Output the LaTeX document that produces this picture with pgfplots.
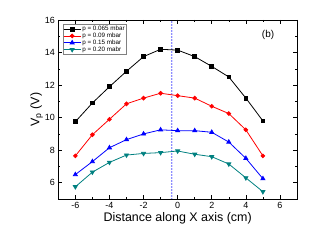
\documentclass[border=0pt]{standalone}
\usepackage{pgfplots}
\pgfplotsset{compat=1.18}
\usepackage{fontspec}
\setmainfont{Liberation Sans}
\definecolor{tealc}{RGB}{0,128,128}
\definecolor{refblue}{RGB}{100,100,255}
\begin{document}
\begin{tikzpicture}[x=1bp,y=1bp]
\useasboundingbox (-58.3bp,-49bp) rectangle (267.7bp,199bp);
\begin{axis}[
  at={(0,0)}, anchor=south west,
  scale only axis, width=238.7bp, height=179bp,
  xmin=-7, xmax=7, ymin=5, ymax=16,
  xtick={-6,-4,...,6}, ytick={6,8,...,16},
  minor xtick={-7,-5,...,7}, minor ytick={5,7,...,15},
  tick align=inside,
  major tick length=4bp, minor tick length=2bp,
  tick style={black, line width=0.6pt},
  axis line style={line width=0.8pt},
  /pgf/number format/assume math mode=true,
  ticklabel style={font=\fontsize{9}{10}\selectfont},
  xlabel={Distance along X axis (cm)},
  ylabel={V$_{\mathrm{p}}$ (V)},
  label style={font=\fontsize{12.5}{14}\selectfont},
  xlabel style={yshift=3bp},
  ylabel style={yshift=-5bp},
  legend style={at={(axis cs:-6.75,15.75)}, anchor=north west, draw=gray, line width=0.4pt,
    font=\fontsize{6.3}{7}\selectfont, inner sep=0.5pt, row sep=-1.8pt,
    nodes={inner sep=1.3pt}},
  legend cell align=left,
  legend image code/.code={\draw[mark repeat=2,mark phase=2] plot coordinates {(0cm,0cm) (0.3cm,0cm) (0.6cm,0cm)};},
  every axis plot/.append style={line width=0.8pt, mark size=1.9bp},
]
\addplot[refblue, no marks, line width=1.8pt, line cap=round, dash pattern=on 0pt off 3bp, forget plot] coordinates {(-0.35,5) (-0.35,16)};
\addplot[black, mark=square*] coordinates {(-6,9.75) (-5,10.9) (-4,11.9) (-3,12.85) (-2,13.75) (-1,14.2) (0,14.15) (1,13.75) (2,13.15) (3,12.5) (4,11.2) (5,9.8)};
\addlegendentry{p = 0.065 mbar}
\addplot[red, mark=*] coordinates {(-6,7.65) (-5,8.95) (-4,9.9) (-3,10.85) (-2,11.2) (-1,11.5) (0,11.35) (1,11.2) (2,10.7) (3,10.25) (4,9.25) (5,7.65)};
\addlegendentry{p = 0.09 mbar}
\addplot[blue, mark=triangle*, mark size=2.3bp] coordinates {(-6,6.5) (-5,7.3) (-4,8.15) (-3,8.65) (-2,9.0) (-1,9.25) (0,9.2) (1,9.2) (2,9.1) (3,8.5) (4,7.5) (5,6.25)};
\addlegendentry{p = 0.15 mbar}
\addplot[tealc, mark=triangle*, mark options={rotate=180}, mark size=2.3bp] coordinates {(-6,5.75) (-5,6.65) (-4,7.25) (-3,7.7) (-2,7.8) (-1,7.85) (0,7.95) (1,7.75) (2,7.6) (3,7.15) (4,6.3) (5,5.45)};
\addlegendentry{p = 0.20 mabr}
\node[font=\fontsize{10}{12}\selectfont] at (axis cs:5.3,15.1) {(b)};
\end{axis}
\end{tikzpicture}
\end{document}
